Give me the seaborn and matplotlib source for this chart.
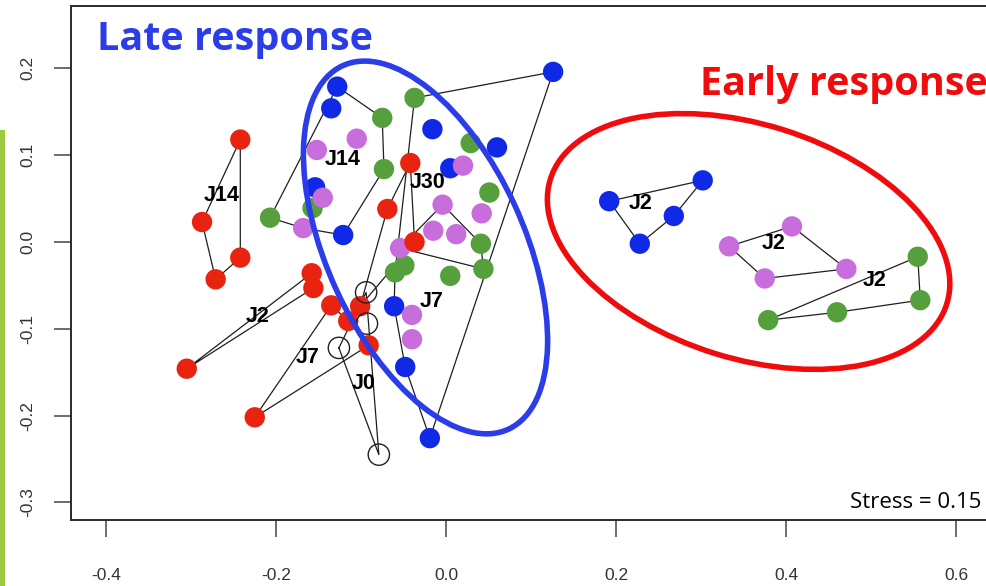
import numpy as np
import pandas as pd
import matplotlib
matplotlib.use("Agg")
import matplotlib.pyplot as plt
import seaborn as sns
from matplotlib.patches import Ellipse, Rectangle

# ---------------- data (NMDS scores) ----------------
red_x = [-0.242, -0.287, -0.271, -0.242, -0.158, -0.156, -0.305,
         -0.225, -0.135, -0.115, -0.091, -0.101, -0.042, -0.069, -0.037]
red_y = [0.118, 0.023, -0.043, -0.018, -0.036, -0.053, -0.146,
         -0.202, -0.073, -0.091, -0.119, -0.074, 0.091, 0.038, 0.000]
red_group = ["J14r"] * 4 + ["J2r"] * 3 + ["J7r"] * 4 + ["J30r"] * 4

blue_x = [-0.128, -0.135, -0.154, -0.121, -0.016, 0.060, 0.005, 0.126,
          -0.061, -0.048, -0.019, 0.192, 0.302, 0.268, 0.228]
blue_y = [0.179, 0.154, 0.063, 0.008, 0.130, 0.109, 0.085, 0.196,
          -0.074, -0.144, -0.226, 0.047, 0.071, 0.030, -0.002]
blue_group = ["J14m"] * 4 + ["J30m"] * 7 + ["J2b"] * 4

green_x = [-0.037, -0.075, -0.073, -0.207, -0.157, 0.029, 0.051, 0.041,
           0.044, 0.005, -0.060, -0.049, 0.555, 0.558, 0.460, 0.379]
green_y = [0.166, 0.143, 0.084, 0.028, 0.039, 0.114, 0.057, -0.002,
           -0.031, -0.039, -0.035, -0.027, -0.017, -0.067, -0.081, -0.090]
green_group = ["J30m", "J14m", "J14m", "J14m", "J14m", "J30m", "J30m", "J7m",
               "J7m", "J30m", "J30m", "J30m", "J2g", "J2g", "J2g", "J2g"]

purple_x = [-0.152, -0.105, -0.145, -0.168, 0.020, -0.004, 0.042, -0.015,
            0.012, -0.054, -0.040, -0.040, 0.333, 0.407, 0.471, 0.375]
purple_y = [0.106, 0.119, 0.051, 0.016, 0.088, 0.043, 0.033, 0.013,
            0.009, -0.007, -0.084, -0.112, -0.005, 0.018, -0.031, -0.042]
purple_group = ["J14m"] * 4 + ["J30m", "J7m", "J30m", "J7m",
                "J7m", "J7m", "J30m", "J30m"] + ["J2p"] * 4

control_x = [-0.094, -0.093, -0.126, -0.079]
control_y = [-0.058, -0.094, -0.122, -0.245]
control_group = ["J0"] * 4

label_text = ["J14", "J14", "J30", "J7", "J2", "J7", "J0", "J2", "J2", "J2"]
label_x = [-0.2635, -0.1212, -0.0212, -0.0165, -0.2212, -0.1624, -0.0965,
           0.2294, 0.3859, 0.5047]
label_y = [0.0541, 0.0945, 0.0691, -0.0691, -0.0853, -0.1336, -0.1636,
           0.0438, -0.0023, -0.0449]

x_ticks = [-0.4, -0.2, 0.0, 0.2, 0.4, 0.6]
x_tick_labels = ["-0.4", "-0.2", "0.0", "0.2", "0.4", "0.6"]
y_ticks = [-0.3, -0.2, -0.1, 0.0, 0.1, 0.2]
y_tick_labels = ["-0.3", "-0.2", "-0.1", "0.0", "0.1", "0.2"]

stress_value = 0.15

# ---------------- build table ----------------
frames = []
for col, xs, ys, gs in [("green", green_x, green_y, green_group),
                        ("blue", blue_x, blue_y, blue_group),
                        ("purple", purple_x, purple_y, purple_group),
                        ("red", red_x, red_y, red_group)]:
    frames.append(pd.DataFrame({"x": xs, "y": ys, "colour": col, "group": gs}))
df = pd.concat(frames, ignore_index=True)
df_ctrl = pd.DataFrame({"x": control_x, "y": control_y, "group": control_group})
df_all = pd.concat([df, df_ctrl.assign(colour="open")], ignore_index=True)

palette = {"red": "#e8230f", "blue": "#1029e6", "purple": "#c86ddc",
           "green": "#55a03c"}


def convex_hull(points):
    pts = sorted(set(points))
    if len(pts) <= 2:
        return pts

    def cross(o, a, b):
        return (a[0] - o[0]) * (b[1] - o[1]) - (a[1] - o[1]) * (b[0] - o[0])

    lower, upper = [], []
    for p in pts:
        while len(lower) >= 2 and cross(lower[-2], lower[-1], p) <= 0:
            lower.pop()
        lower.append(p)
    for p in reversed(pts):
        while len(upper) >= 2 and cross(upper[-2], upper[-1], p) <= 0:
            upper.pop()
        upper.append(p)
    return lower[:-1] + upper[:-1]


# ---------------- figure ----------------
plt.rcParams["font.family"] = ["Liberation Sans", "DejaVu Sans"]
fig = plt.figure(figsize=(9.87, 5.86), dpi=100)
fig.patch.set_facecolor("white")
ax = fig.add_axes([71 / 987, 66 / 586, 936 / 987, 514 / 586])

# hulls (ordihull style)
for g, sub in df_all.groupby("group"):
    hull = convex_hull(list(zip(sub["x"], sub["y"])))
    hx = [p[0] for p in hull] + [hull[0][0]]
    hy = [p[1] for p in hull] + [hull[0][1]]
    ax.plot(hx, hy, color="#1e1e1e", lw=0.9, zorder=1)

sns.scatterplot(data=df, x="x", y="y", hue="colour", palette=palette,
                hue_order=["green", "blue", "purple", "red"],
                s=215, linewidth=0, legend=False, ax=ax, zorder=3)
sns.scatterplot(data=df_ctrl, x="x", y="y", color="black", edgecolor="#202020",
                s=235, linewidth=1.0, legend=False, ax=ax, zorder=4)
ax.collections[-1].set_facecolor("none")

# group labels
for t, lx, ly in zip(label_text, label_x, label_y):
    ax.text(lx, ly, t, ha="center", va="center", fontsize=15.5,
            fontweight="bold", color="black", zorder=6)

# response ellipses
ax.add_patch(Ellipse((-0.0241, -0.0063), 0.462, 0.2314, angle=-64.8,
                     fill=False, ec="#2a3de8", lw=4.0, zorder=5))
ax.add_patch(Ellipse((0.356, 0.0006), 0.488, 0.270, angle=-16.9,
                     fill=False, ec="#f00c0c", lw=4.0, zorder=5))

ax.set_xlim(-0.44118, 0.66)
ax.set_ylim(-0.3203, 0.2719)
ax.set_xticks(x_ticks)
ax.set_xticklabels(x_tick_labels)
ax.set_yticks(y_ticks)
ax.set_yticklabels(y_tick_labels, rotation=90, va="center")
ax.set_xlabel("")
ax.set_ylabel("")
ax.tick_params(axis="both", length=12.5, width=1.1, color="#444444",
               labelsize=12.5, labelcolor="#333333")
ax.tick_params(axis="x", pad=22)
ax.tick_params(axis="y", pad=13)
for side in ["left", "bottom", "top", "right"]:
    ax.spines[side].set_color("#2a2a2a")
    ax.spines[side].set_linewidth(1.4)

# titles / annotations
fig.text(97 / 987, 1 - 50 / 586, "Late response", color="#2a3de8",
         fontsize=28.5, fontweight="bold", family="Open Sans", va="baseline")
fig.text(700 / 987, 1 - 95 / 586, "Early response", color="#f00c0c",
         fontsize=28.5, fontweight="bold", family="Open Sans", va="baseline")
fig.text(981 / 987, 1 - 508 / 586, f"Stress = {stress_value:.2f}",
         color="black", fontsize=16, family="Open Sans", ha="right",
         va="baseline")

# green slide decoration at the left edge
fig.add_artist(Rectangle((0, 0), 5 / 987, (586 - 130) / 586,
                         transform=fig.transFigure, fc="#9dc93e",
                         ec="none"))

fig.savefig("out.png", dpi=100)
